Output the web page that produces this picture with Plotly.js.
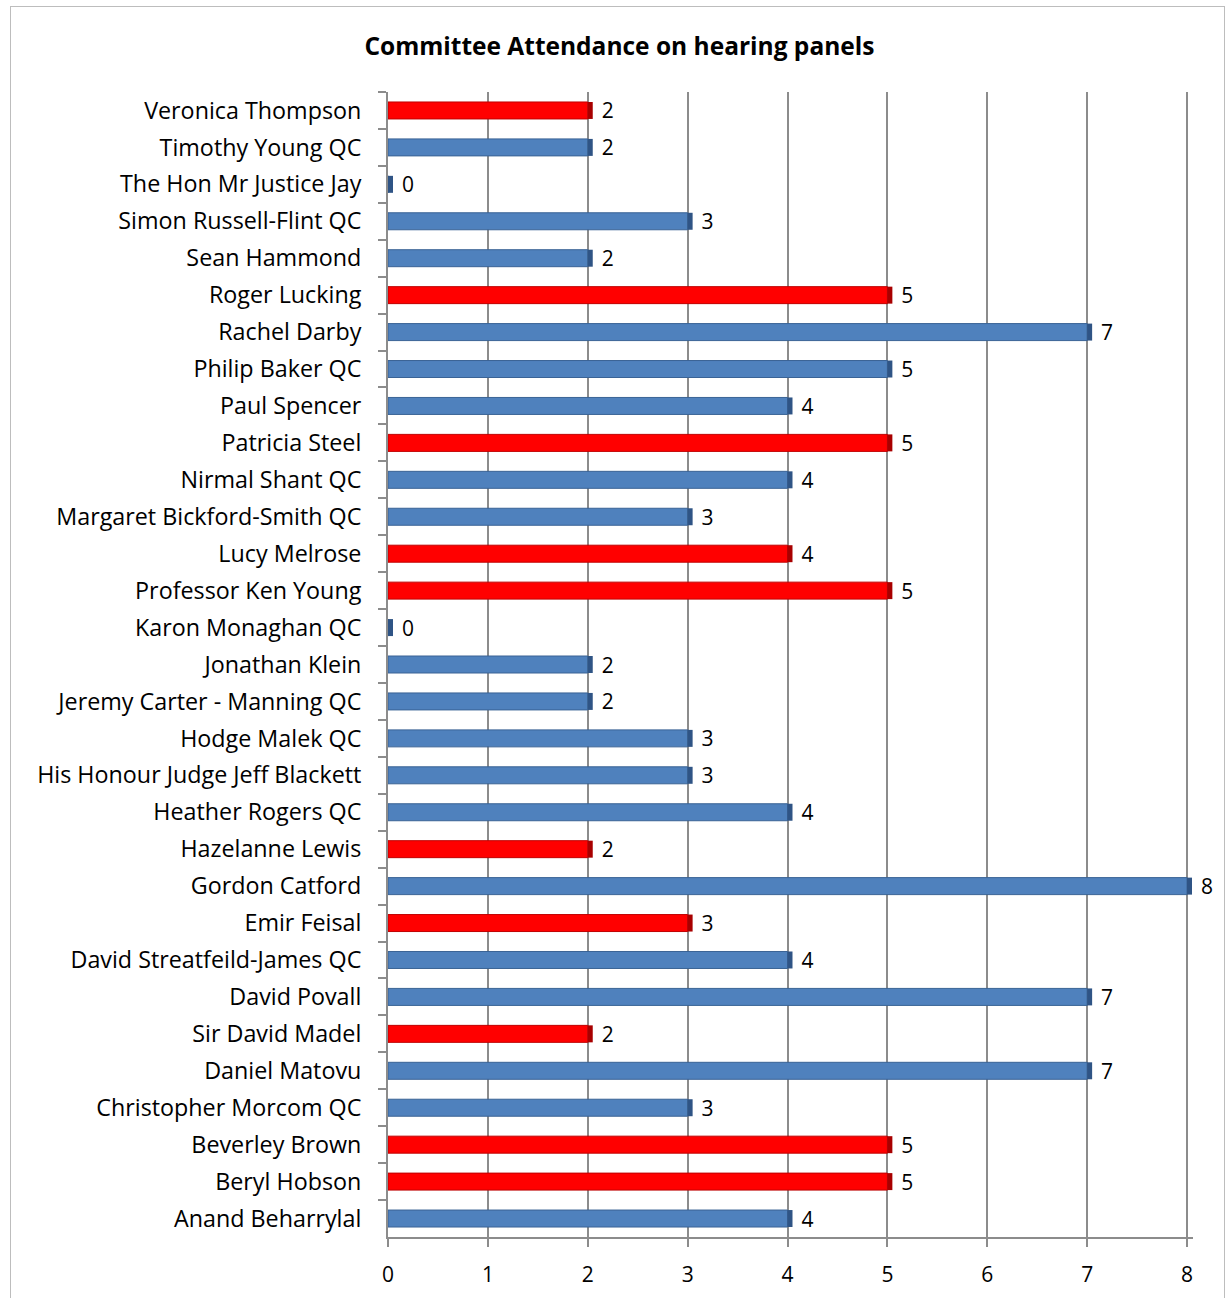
<!DOCTYPE html>
<html>
<head>
<meta charset="utf-8">
<script src="https://cdn.plot.ly/plotly-3.0.1.min.js"></script>
<style>
html,body{margin:0;padding:0;background:#fff;}
#frame{position:absolute;left:10px;top:6px;width:1215px;height:1300px;border:1px solid #bdbdbd;box-sizing:border-box;pointer-events:none;z-index:5;}
#chart{position:absolute;left:0;top:0;width:1229px;height:1298px;}
</style>
</head>
<body>
<div id="chart"></div>
<div id="frame"></div>
<script>
const names = [
  "Veronica Thompson","Timothy Young QC","The Hon Mr Justice Jay","Simon Russell-Flint QC",
  "Sean Hammond","Roger Lucking","Rachel Darby","Philip Baker QC","Paul Spencer",
  "Patricia Steel","Nirmal Shant QC","Margaret Bickford-Smith QC","Lucy Melrose",
  "Professor Ken Young","Karon Monaghan QC","Jonathan Klein","Jeremy Carter - Manning QC",
  "Hodge Malek QC","His Honour Judge Jeff Blackett","Heather Rogers QC","Hazelanne Lewis",
  "Gordon Catford","Emir Feisal","David Streatfeild-James QC","David Povall",
  "Sir David Madel","Daniel Matovu","Christopher Morcom QC","Beverley Brown",
  "Beryl Hobson","Anand Beharrylal"
];
const attendance = [2,2,0,3,2,5,7,5,4,5,4,3,4,5,0,2,2,3,3,4,2,8,3,4,7,2,7,3,5,5,4];
const highlighted = [1,0,0,0,0,1,0,0,0,1,0,0,1,1,0,0,0,0,0,0,1,0,1,0,0,1,0,0,1,1,0];
const xTicks = [0,1,2,3,4,5,6,7,8];

const FONT = "Open Sans, Liberation Sans, sans-serif";
const fill = highlighted.map(h => h ? "#FF0000" : "#4F81BD");
const edge = highlighted.map(h => h ? "#C00000" : "#3A6395");
const side = highlighted.map(h => h ? "#A80000" : "#2F5485");

const mainBars = {
  type: "bar",
  orientation: "h",
  x: attendance,
  y: names,
  width: 0.46,
  marker: {color: fill, line: {color: edge, width: 1}},
  text: attendance.map(String),
  texttemplate: "\u00a0\u00a0%{x}",
  textposition: "outside",
  constraintext: "none",
  cliponaxis: false,
  textfont: {family: FONT, size: 21, color: "#000"},
  hoverinfo: "x+y"
};

// darker end face giving the 3-D look
const endFaces = {
  type: "bar",
  orientation: "h",
  base: attendance,
  x: attendance.map(() => 0.05),
  y: names,
  width: 0.46,
  marker: {color: side, line: {width: 0}},
  cliponaxis: false,
  hoverinfo: "skip"
};

const layout = {
  width: 1229,
  height: 1298,
  margin: {l: 388, r: 36, t: 92, b: 61},
  paper_bgcolor: "#ffffff",
  plot_bgcolor: "#ffffff",
  showlegend: false,
  barmode: "overlay",
  title: {
    text: "<b>Committee Attendance on hearing panels</b>",
    font: {family: FONT, size: 24.5, color: "#000"},
    x: 0.504, xanchor: "center", y: 0.964, yanchor: "middle"
  },
  xaxis: {
    range: [0, 8.06],
    tickvals: xTicks,
    ticktext: xTicks.map(String),
    showgrid: true,
    gridcolor: "#8c8c8c",
    gridwidth: 2,
    zeroline: false,
    showline: true,
    linecolor: "#8c8c8c",
    linewidth: 2,
    ticks: "outside",
    ticklen: 8,
    tickwidth: 2,
    tickcolor: "#8c8c8c",
    ticklabelstandoff: 10,
    tickfont: {family: FONT, size: 21, color: "#000"},
    fixedrange: true
  },
  yaxis: {
    type: "category",
    categoryorder: "array",
    categoryarray: names,
    autorange: "reversed",
    showgrid: false,
    zeroline: false,
    showline: true,
    linecolor: "#8c8c8c",
    linewidth: 2,
    ticks: "outside",
    tickson: "boundaries",
    ticklen: 8,
    tickwidth: 2,
    tickcolor: "#8c8c8c",
    ticklabelstandoff: 20,
    tickfont: {family: FONT, size: 23.3, color: "#000"},
    fixedrange: true
  }
};

Plotly.newPlot("chart", [mainBars, endFaces], layout, {displayModeBar: false, staticPlot: true});
</script>
</body>
</html>
